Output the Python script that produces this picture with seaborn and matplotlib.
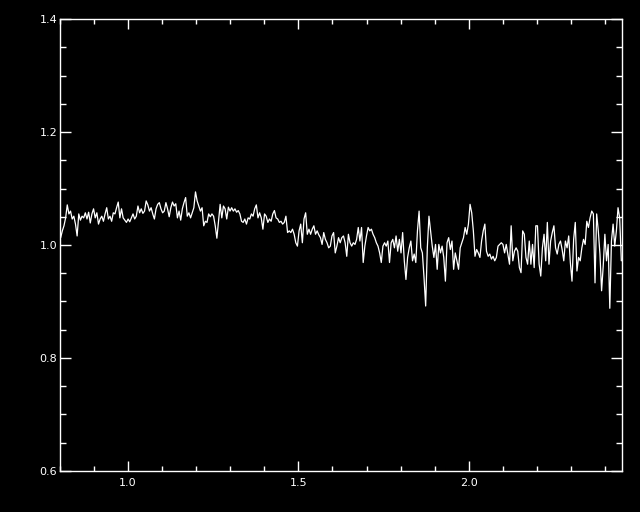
import numpy as np
import pandas as pd
import matplotlib
matplotlib.use("Agg")
import matplotlib.pyplot as plt
from matplotlib.ticker import MultipleLocator
import seaborn as sns

# Spectrum (normalised flux vs wavelength in micron)
x_start = 0.80
x_stop = 2.45
flux = [
    1.013, 1.025, 1.034, 1.048, 1.071, 1.055, 1.060, 1.046, 1.051, 1.037,
    1.016, 1.055, 1.044, 1.051, 1.048, 1.057, 1.046, 1.058, 1.039, 1.055,
    1.064, 1.048, 1.057, 1.037, 1.046, 1.051, 1.042, 1.055, 1.066, 1.046,
    1.051, 1.042, 1.057, 1.055, 1.066, 1.076, 1.048, 1.064, 1.048, 1.044,
    1.040, 1.046, 1.041, 1.048, 1.055, 1.046, 1.051, 1.069, 1.057, 1.064,
    1.056, 1.060, 1.078, 1.071, 1.060, 1.066, 1.055, 1.046, 1.064, 1.072,
    1.075, 1.064, 1.057, 1.060, 1.075, 1.064, 1.050, 1.066, 1.076, 1.069,
    1.073, 1.048, 1.060, 1.044, 1.064, 1.075, 1.084, 1.051, 1.057, 1.048,
    1.057, 1.066, 1.094,
    1.078, 1.069, 1.060, 1.066, 1.034, 1.042, 1.040, 1.055, 1.050, 1.055,
    1.051, 1.034, 1.012, 1.042, 1.072, 1.048, 1.069, 1.064, 1.046, 1.067,
    1.060, 1.066, 1.060, 1.064, 1.058, 1.061, 1.055, 1.042, 1.040, 1.046,
    1.037, 1.048, 1.046, 1.055, 1.051, 1.064, 1.071, 1.048, 1.057, 1.048,
    1.028,
    1.055, 1.051, 1.040, 1.046, 1.042, 1.055, 1.061, 1.048, 1.046, 1.040,
    1.042, 1.037, 1.040, 1.051, 1.022, 1.025, 1.022, 1.028, 1.019, 1.004,
    0.998, 1.025, 1.037, 1.004, 1.046, 1.057, 1.019, 1.028, 1.019, 1.028,
    1.034, 1.019, 1.025, 1.018, 1.013, 1.001, 1.022, 1.010, 1.004, 0.995,
    0.998, 1.016, 1.022, 0.986,
    0.998, 1.013, 1.004, 1.013, 1.016, 1.004, 0.980, 1.019, 1.004, 0.998,
    1.004, 1.001, 1.010, 1.031, 1.007, 1.031, 0.969, 0.998, 1.016, 1.031,
    1.025, 1.028, 1.019, 1.013, 1.004, 0.998, 0.986, 0.969, 0.998, 1.004,
    0.998, 1.007, 0.969, 1.004, 1.010, 0.995, 1.016, 0.989, 1.010, 0.986,
    1.022, 0.972, 0.939,
    0.978, 0.995, 1.007, 0.972, 0.984, 0.969, 1.025, 1.060, 0.995, 0.986,
    0.942, 0.892, 0.995, 1.051, 1.025, 0.998, 0.978, 1.001, 0.957, 1.001,
    0.986, 0.998, 0.978, 0.936, 1.004, 1.013, 0.992, 1.007, 0.957, 0.986,
    0.972, 0.957, 0.995, 1.004, 1.013, 1.031, 1.019, 1.037, 1.072, 1.057,
    1.025, 0.980, 0.992, 0.986, 0.978,
    1.007, 1.025, 1.037, 0.989, 0.980, 0.984, 0.975, 0.980, 0.972, 0.978,
    0.998, 1.001, 1.004, 1.001, 0.986, 1.001, 0.984, 0.966, 1.034, 0.972,
    0.989, 0.995, 0.989, 0.960, 0.951, 1.025, 1.019, 0.978, 0.966, 1.007,
    0.966, 1.001, 0.960, 1.034, 1.034, 0.966, 0.945, 0.995, 1.019, 0.972,
    1.040, 0.966,
    1.007, 1.022, 1.034, 0.995, 0.984, 1.001, 1.007, 0.992, 0.972, 1.007,
    0.995, 1.016, 0.969, 0.936, 1.010, 1.040, 0.954, 0.978, 0.972, 0.995,
    1.010, 1.001, 1.042, 1.031, 1.048, 1.060, 1.055, 0.933, 1.055, 1.025,
    0.984, 0.919, 0.963, 1.019, 0.972, 1.001, 0.888, 1.007, 1.037, 0.998,
    1.025, 1.066, 1.048, 0.972,
]
x_ticks = [1.0, 1.5, 2.0]
y_ticks = [0.6, 0.8, 1.0, 1.2, 1.4]

wave = np.linspace(x_start + 0.002, x_stop - 0.002, len(flux))
df = pd.DataFrame({"wave": wave, "flux": flux})

sns.set_style("dark", {"axes.facecolor": "black", "figure.facecolor": "black",
                       "axes.edgecolor": "white", "axes.grid": False})
plt.rcParams["font.family"] = ["DejaVu Sans"]

fig = plt.figure(figsize=(6.4, 5.12), dpi=100)
ax = fig.add_axes([60 / 640, 41 / 512, 562 / 640, 452 / 512])

sns.lineplot(data=df, x="wave", y="flux", color="white", linewidth=0.9,
             estimator=None, sort=False, ax=ax)

ax.set_xlim(x_start, x_stop)
ax.set_ylim(0.6, 1.4)
ax.set_xticks(x_ticks)
ax.set_yticks(y_ticks)
ax.set_xticklabels([f"{v:.1f}" for v in x_ticks])
ax.set_yticklabels([f"{v:.1f}" for v in y_ticks])
ax.xaxis.set_minor_locator(MultipleLocator(0.1))
ax.yaxis.set_minor_locator(MultipleLocator(0.05))
ax.set_xlabel("")
ax.set_ylabel("")

for s in ax.spines.values():
    s.set_color("white")
    s.set_linewidth(1.0)

ax.tick_params(which="both", direction="in", colors="white", top=True, right=True,
               bottom=True, left=True, labelsize=8, width=1.0)
ax.tick_params(axis="x", which="major", length=7, pad=5)
ax.tick_params(axis="x", which="minor", length=3.7)
ax.tick_params(axis="y", which="major", length=8, pad=2)
ax.tick_params(axis="y", which="minor", length=4.5)

fig.savefig("out.png", dpi=100, facecolor="black")
